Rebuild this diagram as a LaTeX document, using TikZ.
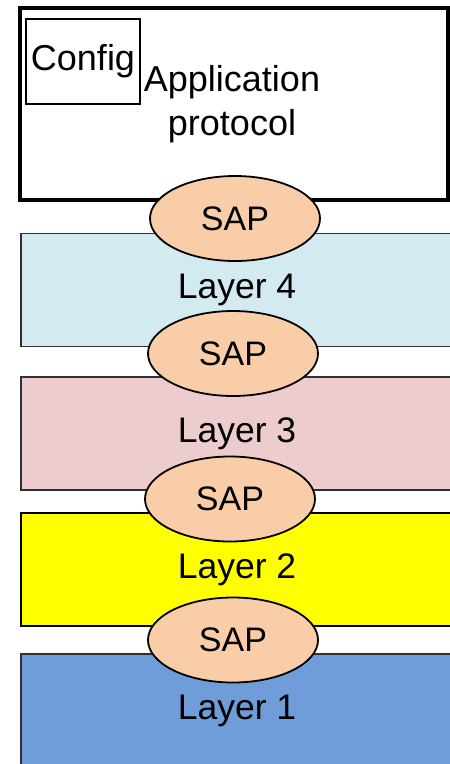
\documentclass[tikz,border=0pt]{standalone}
\usepackage{fontspec}
\setmainfont{Liberation Sans}
\usetikzlibrary{shapes.geometric}
\definecolor{l4col}{HTML}{D3EAF0}
\definecolor{l3col}{HTML}{ECCCCC}
\definecolor{l2col}{HTML}{FFFF00}
\definecolor{l1col}{HTML}{6F9DD9}
\definecolor{sapcol}{HTML}{F9CDA8}
\definecolor{edgecol}{HTML}{303030}
\tikzset{
  layerbox/.style={draw=edgecol, line width=1.2pt, minimum width=432, minimum height=113, inner sep=0pt, font=\fontsize{35.5}{41}\selectfont},
  sap/.style={ellipse, draw=black, line width=1.8pt, fill=sapcol, minimum width=170, minimum height=85, inner sep=0pt, font=\fontsize{34}{40}\selectfont},
}
\begin{document}
\begin{tikzpicture}[x=1pt,y=-1pt]
\useasboundingbox (0,0) rectangle (450,764);
% layers
\node[layerbox, fill=l4col] (l4) at (237,290) {Layer 4};
\node[layerbox, fill=l3col] (l3) at (237,433.5) {Layer 3};
\node[layerbox, fill=l2col, draw=black] (l2) at (237,569.5) {Layer 2};
\node[layerbox, fill=l1col, minimum height=114] (l1) at (237,711) {Layer 1};
% application box
\node[draw=black, line width=3.2pt, fill=white, minimum width=428, minimum height=192, inner sep=0pt] (app) at (234,104) {};
\node[align=center, font=\fontsize{36}{44}\selectfont, inner sep=0pt] (apptext) at (232,104) {Application\\protocol};
\node[draw=black, line width=1.4pt, minimum width=114, minimum height=85, inner sep=0pt, font=\fontsize{36}{41}\selectfont] (config) at (83,61.5) {Config};
% SAPs
\node[sap] (sap1) at (235,218.5) {SAP};
\node[sap] (sap2) at (233,353.5) {SAP};
\node[sap] (sap3) at (230,499) {SAP};
\node[sap] (sap4) at (233,640) {SAP};
\end{tikzpicture}
\end{document}
